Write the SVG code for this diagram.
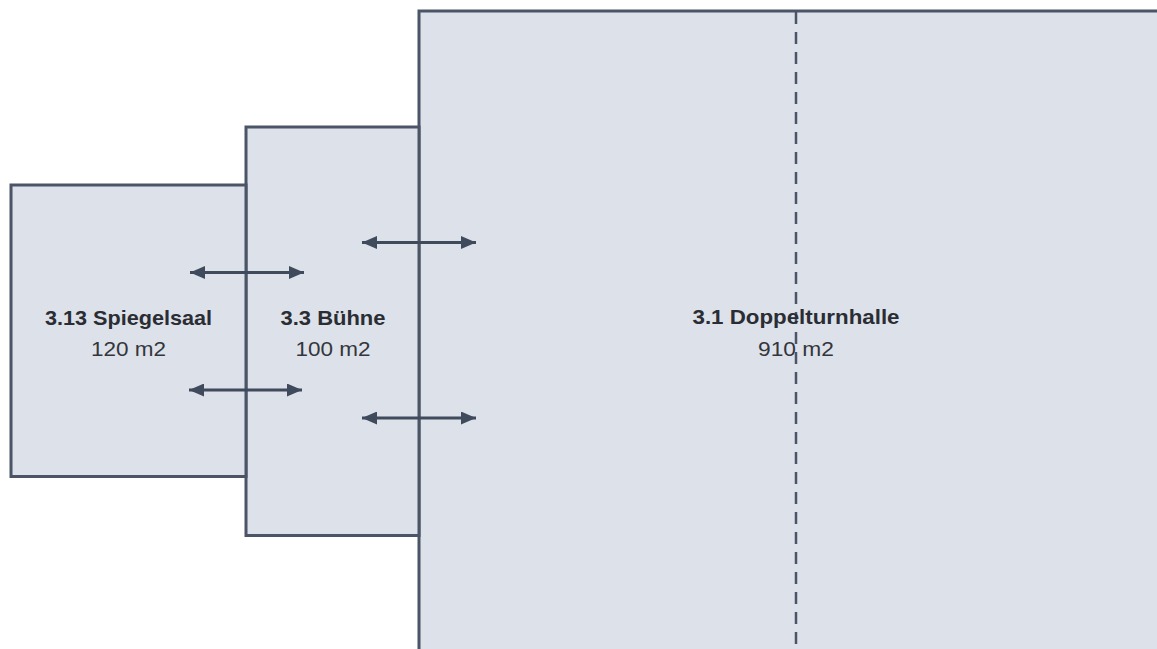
<svg xmlns="http://www.w3.org/2000/svg" width="1157" height="649" viewBox="0 0 1157 649">
  <style>
    .room { fill: #dde1e9; stroke: #4b5567; stroke-width: 3; }
    .divider { stroke: #4b5567; stroke-width: 2.5; stroke-dasharray: 12 8; fill: none; }
    .conn { stroke: #3f4a5c; stroke-width: 2.8; fill: none; marker-start: url(#ah); marker-end: url(#ah); }
    .title { font-family: "Liberation Sans", Arial, sans-serif; font-weight: bold; font-size: 21px; fill: #2a2d33; text-anchor: middle; }
    .area { font-family: "Liberation Sans", Arial, sans-serif; font-size: 20px; fill: #33363c; text-anchor: middle; }
  </style>
  <defs>
    <marker id="ah" viewBox="0 0 15 13" refX="15" refY="6.5" markerWidth="15" markerHeight="13" markerUnits="userSpaceOnUse" orient="auto-start-reverse">
      <path d="M0,0 L15,6.5 L0,13 z" fill="#3f4a5c"/>
    </marker>
  </defs>
  <rect x="0" y="0" width="1157" height="649" fill="#ffffff"/>

  <g id="doppelturnhalle">
    <rect x="419" y="11" width="760" height="660" class="room"/>
    <line x1="796" y1="12" x2="796" y2="649" class="divider"/>
    <text x="796" y="324" class="title" textLength="207" lengthAdjust="spacingAndGlyphs">3.1 Doppelturnhalle</text>
    <text x="796" y="356" class="area" textLength="76" lengthAdjust="spacingAndGlyphs">910 m2</text>
  </g>

  <g id="buehne">
    <rect x="246" y="127" width="173" height="408.5" class="room"/>
    <text x="333" y="325" class="title" textLength="105" lengthAdjust="spacingAndGlyphs">3.3 Bühne</text>
    <text x="333" y="356" class="area" textLength="75" lengthAdjust="spacingAndGlyphs">100 m2</text>
  </g>

  <g id="spiegelsaal">
    <rect x="11" y="185" width="235" height="291.5" class="room"/>
    <text x="128.5" y="325" class="title" textLength="167" lengthAdjust="spacingAndGlyphs">3.13 Spiegelsaal</text>
    <text x="128.5" y="356" class="area" textLength="75" lengthAdjust="spacingAndGlyphs">120 m2</text>
  </g>

  <g id="connectors">
    <line x1="190" y1="272.5" x2="304" y2="272.5" class="conn"/>
    <line x1="189" y1="390" x2="302" y2="390" class="conn"/>
    <line x1="362" y1="242.5" x2="476" y2="242.5" class="conn"/>
    <line x1="362" y1="418" x2="476" y2="418" class="conn"/>
  </g>
</svg>
